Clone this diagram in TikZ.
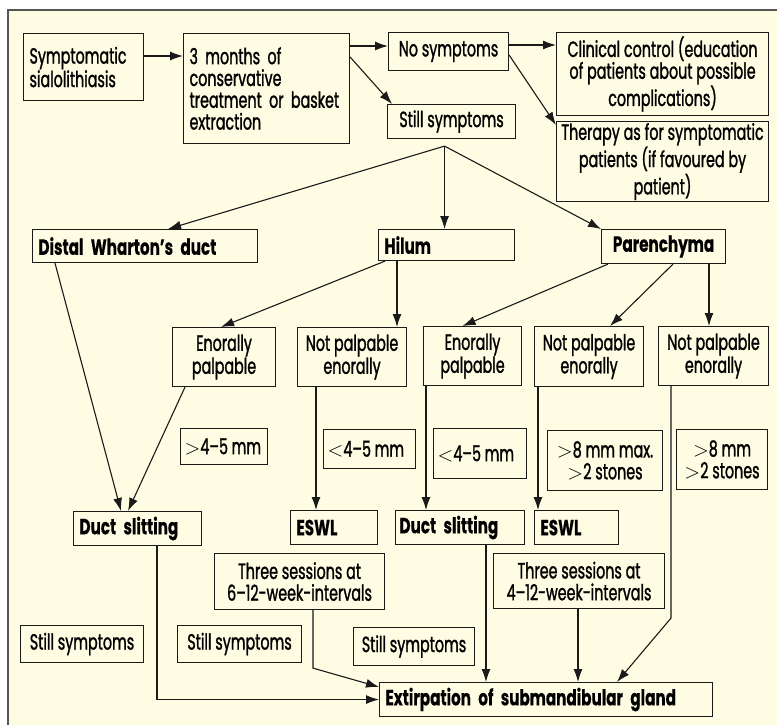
\documentclass[tikz,border=0pt]{standalone}
\usepackage{fontspec}
\setmainfont{Poppins}[FakeStretch=0.65,FakeBold=1.2,BoldFeatures={FakeStretch=0.69,FakeBold=0.3}]
\usepackage{tikz}
\usetikzlibrary{arrows.meta,calc}
\definecolor{cream}{HTML}{FEFCE3}
\definecolor{framegray}{HTML}{555555}
\definecolor{ink}{HTML}{1A1A1A}

\begin{document}
\begin{tikzpicture}[
  x=1pt,y=-1pt,
  font=\fontsize{22}{21.8}\selectfont,
  box/.style={draw=ink,line width=1.1pt,fill=cream,anchor=north west,
              inner xsep=2pt,inner ysep=1pt,align=center},
  lbox/.style={box,align=left,inner xsep=6pt},
  bbox/.style={lbox,font=\fontsize{22}{21.8}\selectfont\bfseries},
  cbbox/.style={box,font=\fontsize{22}{21.8}\selectfont\bfseries},
  arr/.style={-{Latex[length=13pt,width=9pt]},line width=1.1pt,draw=ink},
]
\useasboundingbox (0,0) rectangle (777,725);
\fill[white] (0,0) rectangle (777,725);
\filldraw[fill=cream,draw=framegray,line width=2pt] (8,10) rectangle (800,750);

% ---- Top row
\node[lbox,text width=108,minimum height=67] (sympt) at (23,33) {Symptomatic\\sialolithiasis};
\node[lbox,text width=154,minimum height=110] (cons) at (183,33)
     {3 months of\\conservative\\treatment or basket\\extraction};
\node[box,minimum width=120,minimum height=38] (nosym) at (388,32) {No symptoms};
\node[box,minimum width=212,minimum height=83] (clin) at (556,32)
     {Clinical control (education\\of patients about possible\\complications)};
\node[box,minimum width=212,minimum height=80] (ther) at (556,121)
     {Therapy as for symptomatic\\patients (if favoured by\\patient)};
\node[box,minimum width=128,minimum height=34] (still) at (387,104) {Still symptoms};

% ---- Localisation
\node[bbox,text width=213,minimum height=33] (distal) at (32,229) {Distal Wharton’s duct};
\node[bbox,text width=124,minimum height=31] (hilum) at (378,229) {Hilum};
\node[cbbox,minimum width=124,minimum height=34] (paren) at (601,229) {Parenchyma};

% ---- Palpation
\node[box,minimum width=103,minimum height=59] (enoH) at (172,327) {Enorally\\palpable};
\node[box,minimum width=109,minimum height=59] (npH) at (297,327) {Not palpable\\enorally};
\node[box,minimum width=98,minimum height=59] (enoP) at (423,326) {Enorally\\palpable};
\node[box,minimum width=109,minimum height=60] (npP1) at (534,326) {Not palpable\\enorally};
\node[box,minimum width=110,minimum height=59] (npP2) at (658,326) {Not palpable\\enorally};

% ---- Stone size
\node[lbox,text width=79,minimum height=36,inner xsep=4pt] (gt45) at (180,428) {$>$4–5\,mm};
\node[lbox,text width=84,minimum height=39,inner xsep=4pt] (lt45H) at (323,429) {$<$4–5\,mm};
\node[lbox,text width=85,minimum height=50,inner xsep=4pt] (lt45P) at (433,428) {$<$4–5\,mm};
\node[box,minimum width=115,minimum height=60] (gt8a) at (547,430) {$>$8 mm max.\\$>$2 stones};
\node[box,minimum width=91,minimum height=60] (gt8b) at (676,429) {$>$8 mm\\$>$2 stones};

% ---- Treatment
\node[bbox,text width=116,minimum height=34] (ductL) at (73,511) {Duct slitting};
\node[bbox,text width=75,minimum height=34] (eswlL) at (290,510) {ESWL};
\node[bbox,text width=121,minimum height=34,inner xsep=4pt] (ductR) at (395,510) {Duct slitting};
\node[bbox,text width=72,minimum height=34] (eswlR) at (534,510) {ESWL};
\node[box,minimum width=170,minimum height=56] (sess1) at (214,553) {Three sessions at\\6–12-week-intervals};
\node[box,minimum width=171,minimum height=55] (sess2) at (493,553) {Three sessions at\\4–12-week-intervals};

% ---- Still symptoms
\node[box,minimum width=123,minimum height=37] (stillA) at (20,625) {Still symptoms};
\node[box,minimum width=124,minimum height=37] (stillB) at (177,625) {Still symptoms};
\node[box,minimum width=121,minimum height=38] (stillC) at (353,627) {Still symptoms};
\node[bbox,text width=321,minimum height=34] (extir) at (379,682) {Extirpation of submandibular gland};

% ---- Arrows top
\draw[arr] ([yshift=-23pt]sympt.north east) coordinate (c) -- (c -| cons.west);
\draw[arr] ([yshift=-13pt]cons.north east) coordinate (c) -- (c -| nosym.west);
\draw[arr] ([yshift=-24pt]cons.north east) -- ([xshift=5pt]still.north west);
\draw[arr] ([yshift=-13pt]nosym.north east) coordinate (c) -- (c -| clin.west);
\draw[arr] ([yshift=-23pt]nosym.north east) -- ([yshift=-4pt]ther.north west);
\coordinate (sp) at ($(still.south)+(-7,7)$);
\draw[arr] (sp) -- ([xshift=23pt]distal.north);
\draw[arr] (sp) -- (sp |- hilum.north);
\draw[arr] (sp) -- (paren.north west);

% ---- Arrows middle
\draw[arr] ([xshift=7pt]hilum.south west) -- ([xshift=-3pt]enoH.north);
\draw[arr] ([xshift=19pt]hilum.south west) coordinate (c) -- (c |- npH.north);
\draw[arr] ([xshift=7pt]paren.south west) -- ([xshift=-10pt]enoP.north);
\draw[arr] ([xshift=72pt]paren.south west) -- ([xshift=21pt]npP1.north);
\draw[arr] ([xshift=108pt]paren.south west) coordinate (c) -- (c |- npP2.north);
\draw[arr] ([xshift=23pt]distal.south west) -- ([xshift=48pt]ductL.north west);
\draw[arr] ([xshift=13pt]enoH.south west) -- ([xshift=55pt]ductL.north west);
\draw[arr] ([xshift=19pt]npH.south west) coordinate (c) -- (c |- eswlL.north);
\draw[arr] ([xshift=3pt]enoP.south west) coordinate (c) -- (c |- ductR.north);
\draw[arr] ([xshift=4pt]npP1.south west) coordinate (c) -- (c |- eswlR.north);

% ---- Arrows bottom
\draw[arr] ([xshift=13pt]npP2.south west) coordinate (c) -- ($(c)+(0,232)$)
           -- ([xshift=238pt]extir.north west);
\draw[arr] ([xshift=84pt]ductL.south west) coordinate (c) -- (c |- extir.west) -- (extir.west);
\draw[arr] ([xshift=99pt]sess1.south west) coordinate (c) -- ($(c)+(0,58)$)
           -- ([yshift=-5pt]extir.north west);
\draw[arr] ([xshift=91pt]ductR.south west) coordinate (c) -- (c |- extir.north);
\draw[arr] ([xshift=85pt]sess2.south west) coordinate (c) -- (c |- extir.north);

\end{tikzpicture}
\end{document}
